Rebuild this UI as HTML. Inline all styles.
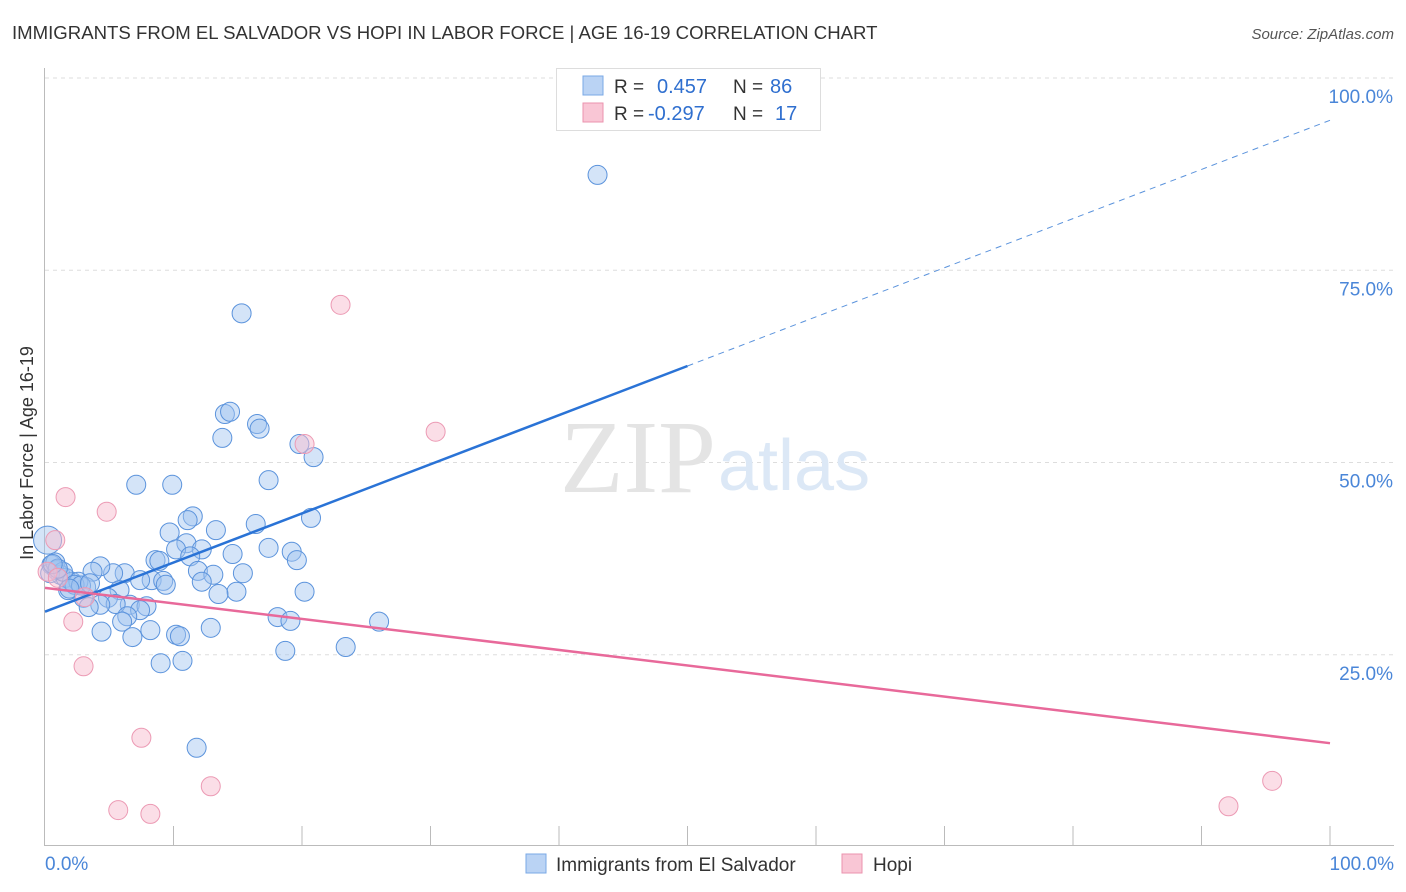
<!DOCTYPE html>
<html><head><meta charset="utf-8">
<style>
body{margin:0;background:#fff;font-family:"Liberation Sans",sans-serif;}
#wrap{position:relative;width:1406px;height:892px;overflow:hidden;}
</style></head>
<body>
<div id="wrap">
<svg id="svg" width="1406" height="892" xmlns="http://www.w3.org/2000/svg">
<text x="12" y="39" font-size="18.6" fill="#333">IMMIGRANTS FROM EL SALVADOR VS HOPI IN LABOR FORCE | AGE 16-19 CORRELATION CHART</text>
<text x="1394" y="39" font-size="15" fill="#555" font-style="italic" text-anchor="end">Source: ZipAtlas.com</text>
<text x="42" y="462" font-size="18" fill="#333" transform="rotate(-90 33 462)" text-anchor="middle">In Labor Force | Age 16-19</text>
<g id="grid"></g>
<text x="716" y="492" font-size="104" fill="#e4e4e4" text-anchor="end" font-family="Liberation Serif,serif">ZIP</text>
<text x="718" y="490" font-size="72" fill="#dce8f6">atlas</text>
<g id="marks"></g>
<g>
<rect x="556.5" y="68.5" width="264" height="62" fill="#fff" stroke="#ddd"/>
<rect x="583" y="76" width="20" height="19" fill="#bad3f4" stroke="#7aa8e6"/>
<rect x="583" y="103" width="20" height="19" fill="#f9c6d5" stroke="#eb93ae"/>
<text x="614" y="93" font-size="19" fill="#333">R = </text><text x="657" y="93" font-size="20" fill="#2f6fcf">0.457</text>
<text x="733" y="93" font-size="19" fill="#333">N = </text><text x="770" y="93" font-size="20" fill="#2f6fcf">86</text>
<text x="614" y="120" font-size="19" fill="#333">R = </text><text x="648" y="120" font-size="20" fill="#2f6fcf">-0.297</text>
<text x="733" y="120" font-size="19" fill="#333">N = </text><text x="775" y="120" font-size="20" fill="#2f6fcf">17</text>
</g>
<g>
<rect x="526" y="854" width="20" height="19" fill="#bad3f4" stroke="#7aa8e6"/>
<text x="556" y="871" font-size="19" fill="#333">Immigrants from El Salvador</text>
<rect x="842" y="854" width="20" height="19" fill="#f9c6d5" stroke="#eb93ae"/>
<text x="873" y="871" font-size="19" fill="#333">Hopi</text>
</g>
</svg>
</div>
<script>
const yTicks=[25,50,75,100];
const yTickLabels=["25.0%","50.0%","75.0%","100.0%"];
const xEndLabels=["0.0%","100.0%"];
const blueX=[43.0,15.3,14.0,14.4,13.8,16.5,16.7,19.8,20.9,7.1,9.9,17.4,11.5,11.1,13.3,16.4,20.7,9.7,11.0,10.2,12.2,17.4,19.2,14.6,11.3,8.6,8.9,19.6,11.9,13.1,15.4,6.2,5.3,4.3,3.7,12.2,8.3,7.4,9.2,9.4,14.9,13.5,20.2,5.8,3.2,1.8,4.9,3.0,6.6,7.9,5.5,4.3,3.4,7.4,6.4,6.0,18.1,19.1,26.0,8.2,4.4,12.9,6.8,10.2,10.5,23.4,18.7,9.0,10.7,11.8,0.2,0.5,0.9,1.2,0.4,1.6,2.1,2.6,0.8,1.4,2.3,2.8,1.0,0.6,3.5,1.9];
const blueY=[87.4,69.4,56.3,56.6,53.2,55.0,54.4,52.4,50.7,47.1,47.1,47.7,43.0,42.5,41.2,42.0,42.8,40.9,39.5,38.7,38.7,38.9,38.4,38.1,37.8,37.3,37.2,37.3,35.9,35.4,35.6,35.6,35.6,36.5,35.8,34.5,34.7,34.7,34.6,34.1,33.2,32.9,33.2,33.4,33.8,33.4,32.4,32.4,31.5,31.3,31.6,31.5,31.2,30.8,30.0,29.3,29.9,29.4,29.3,28.2,28.0,28.5,27.3,27.6,27.4,26.0,25.5,23.9,24.2,12.9,39.9,36.7,36.0,35.4,35.6,35.0,34.5,34.5,37.0,35.8,34.1,34.0,36.2,36.8,34.3,33.6];
const pinkX=[23.0,20.2,30.4,1.6,4.8,0.8,0.2,1.0,2.2,3.0,7.5,5.7,8.2,12.9,92.1,95.5,3.1];
const pinkY=[70.5,52.4,54.0,45.5,43.6,39.9,35.8,35.0,29.3,23.5,14.2,4.8,4.3,7.9,5.3,8.6,32.5];
const blueTrend=[30.6,94.5];
const pinkTrend=[33.7,13.5];
const blueSolidEnd=50;
const X0=45,X1=1330,Y0=847,Y100=78;
const sx=v=>X0+(X1-X0)*v/100, sy=v=>Y0-(Y0-Y100)*v/100;
const NS="http://www.w3.org/2000/svg";
const grid=document.getElementById('grid'), marks=document.getElementById('marks'), svg=document.getElementById('svg');
function mk(tag,attrs,parent){const e=document.createElementNS(NS,tag);for(const k in attrs)e.setAttribute(k,attrs[k]);parent.appendChild(e);return e;}
yTicks.forEach((t,i)=>{
  const l=mk('line',{x1:45,x2:1394,y1:sy(t),y2:sy(t),stroke:'#ddd','stroke-dasharray':'4,4'},grid);
  
  
  const tx=mk('text',{x:1393,y:sy(t)+25,'font-size':19,fill:'#4a86d8','text-anchor':'end'},svg);
  tx.textContent=yTickLabels[i];
  
  
});
const ax=mk('line',{x1:44.5,x2:44.5,y1:68,y2:846,stroke:'#bbb'},grid);


const bx=mk('line',{x1:44,x2:1394,y1:845.5,y2:845.5,stroke:'#bbb'},grid);


for(let i=1;i<=10;i++){
  const t=mk('line',{x1:sx(i*10),x2:sx(i*10),y1:826,y2:846,stroke:'#bbb'},grid);
  
  
}
[[0,'start',45],[100,'end',1394]].forEach((d,i)=>{
  const tx=mk('text',{x:d[2],y:870,'font-size':19,fill:'#4a86d8','text-anchor':d[1]},svg);
  tx.textContent=xEndLabels[i];
  
  
});
blueX.forEach((x,i)=>{
  const c=mk('circle',{cx:sx(x),cy:sy(blueY[i]),r:i==70?14:9.5,fill:'rgba(160,196,240,0.45)',stroke:'#5b93dc','stroke-width':1},marks);
  
  
});
pinkX.forEach((x,i)=>{
  const c=mk('circle',{cx:sx(x),cy:sy(pinkY[i]),r:9.5,fill:'rgba(248,190,208,0.5)',stroke:'#ec9ab4','stroke-width':1},marks);
  
  
});
const by=x=>blueTrend[0]+(blueTrend[1]-blueTrend[0])*x/100;
const py=x=>pinkTrend[0]+(pinkTrend[1]-pinkTrend[0])*x/100;
let l=mk('line',{x1:sx(0),y1:sy(by(0)),x2:sx(blueSolidEnd),y2:sy(by(blueSolidEnd)),stroke:'#2a73d6','stroke-width':2.5},marks);


l=mk('line',{x1:sx(blueSolidEnd),y1:sy(by(blueSolidEnd)),x2:sx(100),y2:sy(by(100)),stroke:'#5b93dc','stroke-width':1,'stroke-dasharray':'6,5'},marks);


l=mk('line',{x1:sx(0),y1:sy(py(0)),x2:sx(100),y2:sy(py(100)),stroke:'#e8699a','stroke-width':2.5},marks);


</script>
</body></html>
